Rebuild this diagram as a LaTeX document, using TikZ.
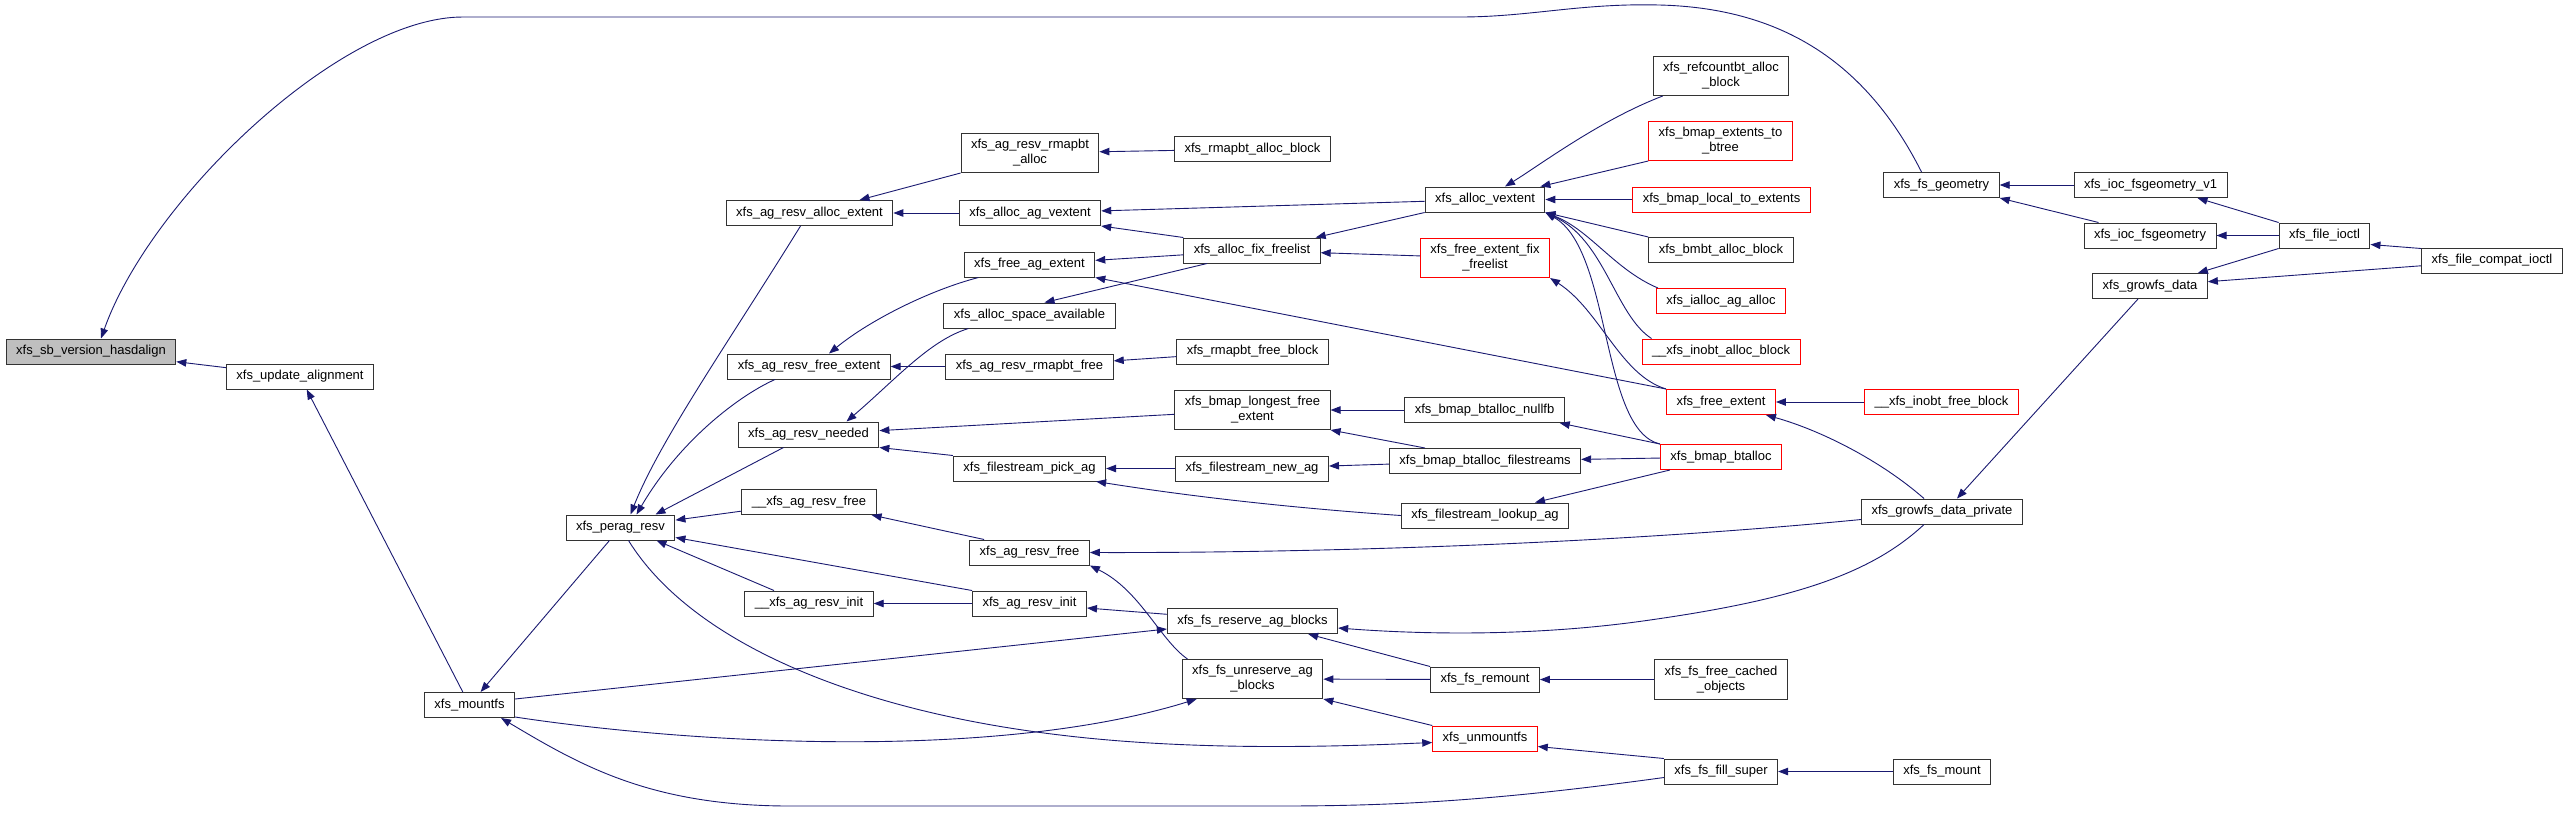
\documentclass[tikz,border=0pt]{standalone}
\usepackage{fontspec}
\setmainfont{Liberation Sans}
\usepackage{tikz}
\usetikzlibrary{arrows.meta}
\definecolor{callblue}{HTML}{191970}
\definecolor{rootgray}{HTML}{BFBFBF}
\definecolor{boxred}{HTML}{FF0000}

\begin{document}
\begin{tikzpicture}[
    x=1pt, y=-1pt,
    fn/.style={rectangle, draw=black!80, line width=1pt, fill=white, minimum height=25pt, inner xsep=10pt, inner ysep=6pt, align=center, font=\fontsize{13}{15}\selectfont},
    fnred/.style={fn, draw=boxred},
    fnroot/.style={fn, fill=rootgray},
    callarrow/.style={-{Triangle[length=10pt,width=7.5pt]}, draw=callblue, line width=0.9pt}
]
    \useasboundingbox (0,0) rectangle (2571,812);

    % Wurzel und linke Seite
    \node[fnroot] (hasdalign) at (91,351.5) {xfs\_sb\_version\_hasdalign};
    \node[fn] (updalign) at (300,376.5) {xfs\_update\_alignment};
    \node[fn] (mountfs) at (469.5,705) {xfs\_mountfs};
    \node[fn] (peragresv) at (620.5,527.5) {xfs\_perag\_resv};

    % Spalte ag_resv
    \node[fn] (agresvallocext) at (809.5,213) {xfs\_ag\_resv\_alloc\_extent};
    \node[fn] (agresvfreeext) at (809,366.5) {xfs\_ag\_resv\_free\_extent};
    \node[fn] (agresvneeded) at (808.5,434.5) {xfs\_ag\_resv\_needed};
    \node[fn] (uagresvfree) at (809,502) {\_\_xfs\_ag\_resv\_free};
    \node[fn] (uagresvinit) at (809,603.5) {\_\_xfs\_ag\_resv\_init};

    % Spalte alloc
    \node[fn] (agresvrmapalloc) at (1030,153) {xfs\_ag\_resv\_rmapbt\\\_alloc};
    \node[fn] (allocagvext) at (1030,213) {xfs\_alloc\_ag\_vextent};
    \node[fn] (freeagext) at (1029.5,264.5) {xfs\_free\_ag\_extent};
    \node[fn] (allocspace) at (1029.5,315.5) {xfs\_alloc\_space\_available};
    \node[fn] (agresvrmapfree) at (1029.5,366.5) {xfs\_ag\_resv\_rmapbt\_free};
    \node[fn] (fspickag) at (1029.5,468.5) {xfs\_filestream\_pick\_ag};
    \node[fn] (agresvfree) at (1029.5,552.5) {xfs\_ag\_resv\_free};
    \node[fn] (agresvinit) at (1029.5,603.5) {xfs\_ag\_resv\_init};

    % Spalte freelist / reserve
    \node[fn] (rmapallocblk) at (1252.5,149) {xfs\_rmapbt\_alloc\_block};
    \node[fn] (allocfixfl) at (1252,250.5) {xfs\_alloc\_fix\_freelist};
    \node[fn] (rmapfreeblk) at (1252.5,351.5) {xfs\_rmapbt\_free\_block};
    \node[fn] (bmaplongest) at (1252.5,410) {xfs\_bmap\_longest\_free\\\_extent};
    \node[fn] (fsnewag) at (1252,468.5) {xfs\_filestream\_new\_ag};
    \node[fn] (fsreserve) at (1252.5,621) {xfs\_fs\_reserve\_ag\_blocks};
    \node[fn] (fsunreserve) at (1252.5,679) {xfs\_fs\_unreserve\_ag\\\_blocks};

    % Spalte vextent / btalloc
    \node[fn] (allocvext) at (1485,199.5) {xfs\_alloc\_vextent};
    \node[fnred] (freeextfixfl) at (1485,258) {xfs\_free\_extent\_fix\\\_freelist};
    \node[fn] (btallocnullfb) at (1484.5,410) {xfs\_bmap\_btalloc\_nullfb};
    \node[fn] (btallocfs) at (1485,461) {xfs\_bmap\_btalloc\_filestreams};
    \node[fn] (fslookupag) at (1485,515.5) {xfs\_filestream\_lookup\_ag};
    \node[fn] (fsremount) at (1485,679.5) {xfs\_fs\_remount};
    \node[fnred] (unmountfs) at (1485,738.5) {xfs\_unmountfs};

    % Aufrufer von xfs_alloc_vextent
    \node[fn] (refcountalloc) at (1721,76) {xfs\_refcountbt\_alloc\\\_block};
    \node[fnred] (bmapext2btree) at (1720.5,141) {xfs\_bmap\_extents\_to\\\_btree};
    \node[fnred] (bmaplocal2ext) at (1721.5,199.5) {xfs\_bmap\_local\_to\_extents};
    \node[fn] (bmbtalloc) at (1721,250) {xfs\_bmbt\_alloc\_block};
    \node[fnred] (iallocagalloc) at (1721,301) {xfs\_ialloc\_ag\_alloc};
    \node[fnred] (uinobtalloc) at (1721,351.5) {\_\_xfs\_inobt\_alloc\_block};
    \node[fnred] (freeext) at (1721,402) {xfs\_free\_extent};
    \node[fnred] (bmapbtalloc) at (1721,457) {xfs\_bmap\_btalloc};
    \node[fn] (fsfreecached) at (1721,679.5) {xfs\_fs\_free\_cached\\\_objects};
    \node[fn] (fsfillsuper) at (1721,771.5) {xfs\_fs\_fill\_super};

    % rechte Seite
    \node[fn] (fsgeometry) at (1941.5,185) {xfs\_fs\_geometry};
    \node[fnred] (uinobtfree) at (1941.5,402) {\_\_xfs\_inobt\_free\_block};
    \node[fn] (growfspriv) at (1942,511.5) {xfs\_growfs\_data\_private};
    \node[fn] (fsmount) at (1942,771.5) {xfs\_fs\_mount};
    \node[fn] (iocgeomv1) at (2150.5,185) {xfs\_ioc\_fsgeometry\_v1};
    \node[fn] (iocgeom) at (2150,235.5) {xfs\_ioc\_fsgeometry};
    \node[fn] (growfsdata) at (2150,286) {xfs\_growfs\_data};
    \node[fn] (fileioctl) at (2324.5,235.5) {xfs\_file\_ioctl};
    \node[fn] (filecompat) at (2492,260.5) {xfs\_file\_compat\_ioctl};

    % Aufrufe links
    \draw[callarrow] ([xshift=-20pt]fsgeometry.north) .. controls (1870,70) and (1790,8) .. (1659,5) .. controls (1580,3) and (1530,17) .. (1460,17) -- (463,17) .. controls (340,17) and (150,200) .. ([xshift=10pt]hasdalign.north);
    \draw[callarrow] (updalign) -- (hasdalign);
    \draw[callarrow] (mountfs) -- (updalign);
    \draw[callarrow] (peragresv) -- (mountfs);
    \draw[callarrow] ([yshift=6pt]mountfs.east) -- ([yshift=-8pt]fsreserve.west);
    \draw[callarrow] ([yshift=-12pt]mountfs.east) .. controls (700,745) and (1000,760) .. ([xshift=15pt]fsunreserve.south west);
    \draw[callarrow] ([yshift=-6pt]fsfillsuper.west) .. controls (1500,800) and (1400,806) .. (1280,806) -- (790,806) .. controls (650,806) and (580,765) .. ([xshift=-14pt]mountfs.south east);
    \draw[callarrow] ([xshift=8pt]peragresv.south) .. controls (690,640) and (850,710) .. (1060,735) .. controls (1200,752) and (1350,746) .. ([yshift=-4pt]unmountfs.west);

    % Aufrufe von xfs_perag_resv
    \draw[callarrow] ([xshift=-9pt]agresvallocext.south) .. controls (730,340) and (660,440) .. ([xshift=10pt]peragresv.north);
    \draw[callarrow] ([xshift=-34pt]agresvfreeext.south) .. controls (740,395) and (680,440) .. ([xshift=16pt]peragresv.north);
    \draw[callarrow] ([xshift=-25pt]agresvneeded.south) -- ([xshift=35pt]peragresv.north);
    \draw[callarrow] (uagresvfree) -- (peragresv);
    \draw[callarrow] (agresvinit.north west) -- ([yshift=3pt]peragresv.south east);
    \draw[callarrow] ([xshift=-35pt]uagresvinit.north) -- ([xshift=36pt]peragresv.south);

    % Spalte ag_resv
    \draw[callarrow] (agresvrmapalloc.south west) -- ([xshift=50pt]agresvallocext.north);
    \draw[callarrow] (allocagvext) -- (agresvallocext);
    \draw[callarrow] ([xshift=-51pt]freeagext.south) .. controls (930,290) and (870,320) .. ([xshift=20pt]agresvfreeext.north);
    \draw[callarrow] ([xshift=-61pt]allocspace.south) .. controls (930,340) and (895,380) .. ([xshift=38pt]agresvneeded.north);
    \draw[callarrow] (agresvrmapfree) -- (agresvfreeext);
    \draw[callarrow] (agresvinit) -- (uagresvinit);
    \draw[callarrow] ([xshift=15pt]agresvfree.north west) -- ([xshift=-5pt]uagresvfree.south east);

    % Spalte alloc
    \draw[callarrow] (rmapallocblk) -- (agresvrmapalloc);
    \draw[callarrow] (allocvext) -- (allocagvext);
    \draw[callarrow] (allocfixfl.north west) -- (allocagvext.south east);
    \draw[callarrow] (allocfixfl) -- (freeagext);
    \draw[callarrow] ([xshift=-45pt]allocfixfl.south) -- ([xshift=15pt]allocspace.north);
    \draw[callarrow] (freeext.north west) -- (freeagext.south east);
    \draw[callarrow] (rmapfreeblk) -- (agresvrmapfree);
    \draw[callarrow] (bmaplongest) -- (agresvneeded);
    \draw[callarrow] (fspickag.north west) -- (agresvneeded.south east);
    \draw[callarrow] (fsnewag) -- (fspickag);
    \draw[callarrow] (fslookupag.west) .. controls (1250,505) and (1150,490) .. ([xshift=-10pt]fspickag.south east);
    \draw[callarrow] ([yshift=-8pt]growfspriv.west) .. controls (1600,545) and (1300,553) .. (agresvfree.east);
    \draw[callarrow] ([xshift=-65pt]fsunreserve.north) .. controls (1160,640) and (1140,590) .. (agresvfree.south east);
    \draw[callarrow] (fsreserve) -- (agresvinit);

    % Spalte freelist / reserve
    \draw[callarrow] (allocvext.south west) -- ([xshift=-5pt]allocfixfl.north east);
    \draw[callarrow] (freeextfixfl) -- (allocfixfl);
    \draw[callarrow] (btallocnullfb) -- (bmaplongest);
    \draw[callarrow] ([xshift=-60pt]btallocfs.north) -- (bmaplongest.south east);
    \draw[callarrow] (btallocfs) -- (fsnewag);
    \draw[callarrow] (fsremount.north west) -- ([xshift=-30pt]fsreserve.south east);
    \draw[callarrow] (fsremount) -- (fsunreserve);
    \draw[callarrow] (unmountfs.north west) -- (fsunreserve.south east);
    \draw[callarrow] ([xshift=-18pt]growfspriv.south) .. controls (1870,575) and (1790,600) .. (1650,620) .. controls (1540,636) and (1430,635) .. ([yshift=-7pt]fsreserve.east);

    % Aufrufer von xfs_alloc_vextent
    \draw[callarrow] ([xshift=10pt]refcountalloc.south west) .. controls (1600,120) and (1540,165) .. ([xshift=20pt]allocvext.north);
    \draw[callarrow] (bmapext2btree.south west) -- ([xshift=-5pt]allocvext.north east);
    \draw[callarrow] (bmaplocal2ext) -- (allocvext);
    \draw[callarrow] (bmbtalloc.north west) -- (allocvext.south east);
    \draw[callarrow] ([xshift=2pt]iallocagalloc.north west) .. controls (1615,270) and (1590,230) .. (allocvext.south east);
    \draw[callarrow] ([xshift=10pt]uinobtalloc.north west) .. controls (1615,315) and (1605,240) .. (allocvext.south east);
    \draw[callarrow] (bmapbtalloc.north west) .. controls (1600,430) and (1612,250) .. (allocvext.south east);
    \draw[callarrow] (freeext.north west) .. controls (1620,375) and (1600,310) .. (freeextfixfl.south east);
    \draw[callarrow] (uinobtfree) -- (freeext);
    \draw[callarrow] ([xshift=-18pt]growfspriv.north) .. controls (1880,460) and (1820,430) .. ([xshift=-10pt]freeext.south east);
    \draw[callarrow] (bmapbtalloc.north west) -- ([xshift=-5pt]btallocnullfb.south east);
    \draw[callarrow] (bmapbtalloc) -- (btallocfs);
    \draw[callarrow] ([xshift=10pt]bmapbtalloc.south west) -- ([xshift=50pt]fslookupag.north);
    \draw[callarrow] (fsfreecached) -- (fsremount);
    \draw[callarrow] (fsfillsuper.north west) -- ([yshift=-8pt]unmountfs.east);
    \draw[callarrow] (fsmount) -- (fsfillsuper);

    % rechte Seite
    \draw[callarrow] (iocgeomv1) -- (fsgeometry);
    \draw[callarrow] ([xshift=15pt]iocgeom.north west) -- (fsgeometry.south east);
    \draw[callarrow] (fileioctl.north west) -- ([xshift=-30pt]iocgeomv1.south east);
    \draw[callarrow] (fileioctl) -- (iocgeom);
    \draw[callarrow] (fileioctl.south west) -- ([xshift=-10pt]growfsdata.north east);
    \draw[callarrow] ([yshift=-1pt]filecompat.north west) -- ([yshift=4pt]fileioctl.south east);
    \draw[callarrow] (filecompat) -- (growfsdata);
    \draw[callarrow] ([xshift=-12pt]growfsdata.south) -- ([xshift=15pt]growfspriv.north);
\end{tikzpicture}
\end{document}
